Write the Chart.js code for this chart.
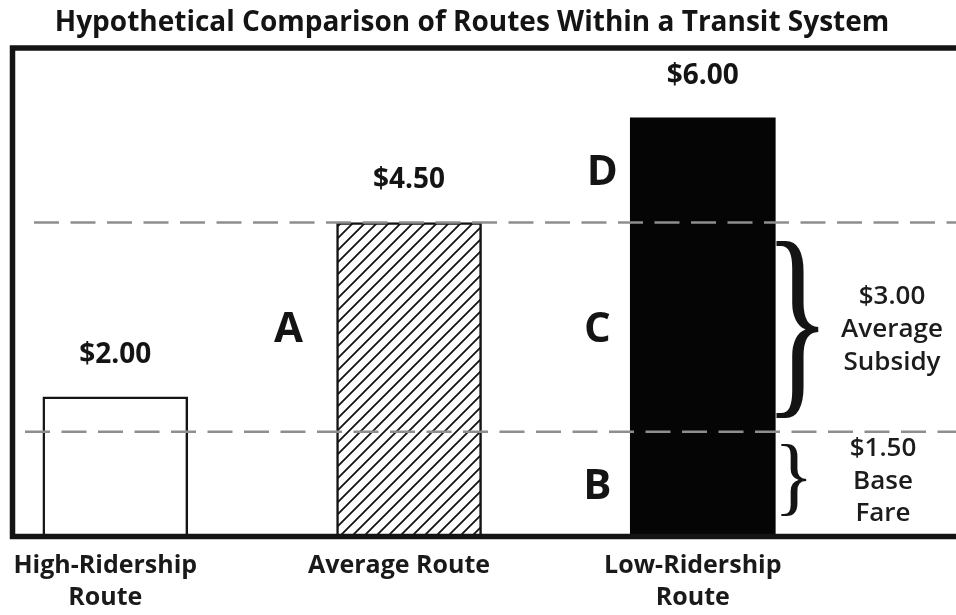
<!DOCTYPE html>
<html>
<head>
<meta charset="utf-8">
<title>Hypothetical Comparison of Routes Within a Transit System</title>
<script src="https://cdn.jsdelivr.net/npm/chart.js@4.4.1/dist/chart.umd.min.js"></script>
<style>
  html, body { margin: 0; padding: 0; background: #ffffff; }
  #wrap { width: 956px; height: 615px; }
</style>
</head>
<body>
<div id="wrap"><canvas id="chart" width="956" height="615"></canvas></div>
<script>
// Cost per rider on three kinds of route, and how the average cost splits
const routes = ['High-Ridership Route', 'Average Route', 'Low-Ridership Route'];
const tickLines = [['High-Ridership', 'Route'], ['Average Route'], ['Low-Ridership', 'Route']];
const costPerRider = [2.00, 4.50, 6.00];
const baseFare = 1.50;
const averageSubsidy = 3.00;
const averageCost = baseFare + averageSubsidy;
const subsidyNote = ['$' + averageSubsidy.toFixed(2), 'Average', 'Subsidy'];
const fareNote = ['$' + baseFare.toFixed(2), 'Base', 'Fare'];
const chartTitle = 'Hypothetical Comparison of Routes Within a Transit System';

const FONT = '"Open Sans", "DejaVu Sans", sans-serif';
const INK = '#141414';
const BAR_WIDTH = 145;

// diagonal hatch fill for the average route
function makeHatch(size, lw) {
  const c = document.createElement('canvas');
  c.width = size; c.height = size;
  const g = c.getContext('2d');
  g.fillStyle = '#ffffff';
  g.fillRect(0, 0, size, size);
  g.strokeStyle = INK;
  g.lineWidth = lw;
  g.beginPath();
  g.moveTo(0, size); g.lineTo(size, 0);
  g.moveTo(-size / 2, size / 2); g.lineTo(size / 2, -size / 2);
  g.moveTo(size / 2, size * 1.5); g.lineTo(size * 1.5, size / 2);
  g.stroke();
  return g.createPattern(c, 'repeat');
}
const hatch = makeHatch(12, 1.8);

// text centred on its capital height
function capText(ctx, text, cx, cy, size, weight, align) {
  ctx.font = `${weight} ${size}px ${FONT}`;
  ctx.textAlign = align || 'center';
  ctx.textBaseline = 'alphabetic';
  ctx.fillText(text, cx, cy + 0.357 * size);
}

// a right-facing curly brace stretched into the box (x0, y0, w, h)
function brace(ctx, x0, y0, w, h) {
  ctx.save();
  ctx.font = '100px "Liberation Serif", "DejaVu Serif", serif';
  ctx.textAlign = 'left';
  ctx.textBaseline = 'alphabetic';
  const m = ctx.measureText('}');
  const gl = -m.actualBoundingBoxLeft, gr = m.actualBoundingBoxRight;
  const gt = -m.actualBoundingBoxAscent, gb = m.actualBoundingBoxDescent;
  ctx.translate(x0, y0);
  ctx.scale(w / (gr - gl), h / (gb - gt));
  ctx.fillStyle = INK;
  ctx.fillText('}', -gl, -gt);
  ctx.restore();
}

const annotations = {
  id: 'annotations',
  afterDatasetsDraw(chart) {
    const { ctx, chartArea: a, scales: { x, y } } = chart;
    ctx.save();

    // dashed lines at the base fare and at the average cost
    ctx.strokeStyle = '#8e8e8e';
    ctx.lineWidth = 2.5;
    ctx.setLineDash([25, 11.5]);
    [[averageCost, 34], [baseFare, 25]].forEach(([v, x0]) => {
      const py = y.getPixelForValue(v);
      ctx.beginPath();
      ctx.moveTo(x0, py);
      ctx.lineTo(a.right, py);
      ctx.stroke();
    });
    ctx.setLineDash([]);

    // frame: top, left and bottom rules
    ctx.strokeStyle = INK;
    ctx.lineWidth = 5.5;
    ctx.beginPath();
    ctx.moveTo(a.right, a.top);
    ctx.lineTo(a.left, a.top);
    ctx.lineTo(a.left, a.bottom);
    ctx.lineTo(a.right, a.bottom);
    ctx.stroke();

    ctx.fillStyle = INK;

    // cost labels above the bars
    costPerRider.forEach((v, i) => {
      capText(ctx, '$' + v.toFixed(2), x.getPixelForValue(i + 1), y.getPixelForValue(v) - 44, 28, 'bold');
    });

    // segment letters
    const lowLeft = x.getPixelForValue(3) - BAR_WIDTH / 2;
    const avgLeft = x.getPixelForValue(2) - BAR_WIDTH / 2;
    const letterSize = 42;
    capText(ctx, 'A', avgLeft - 48, y.getPixelForValue(baseFare + averageSubsidy / 2), letterSize, 'bold');
    capText(ctx, 'B', lowLeft - 33, y.getPixelForValue(baseFare / 2), letterSize, 'bold');
    capText(ctx, 'C', lowLeft - 33, y.getPixelForValue(baseFare + averageSubsidy / 2), letterSize, 'bold');
    capText(ctx, 'D', lowLeft - 28, y.getPixelForValue((averageCost + costPerRider[2]) / 2), letterSize, 'bold');

    // braces with the fare and subsidy notes
    const lowRight = x.getPixelForValue(3) + BAR_WIDTH / 2;
    const yAvg = y.getPixelForValue(averageCost);
    const yBase = y.getPixelForValue(baseFare);
    const yZero = y.getPixelForValue(0);
    const sTop = yAvg + 17, sBot = yBase - 15;
    brace(ctx, lowRight + 1, sTop, 42, sBot - sTop);
    const fTop = yBase + 12, fBot = yZero - 21;
    brace(ctx, lowRight + 6, fTop, 25, fBot - fTop);

    ctx.fillStyle = '#1c1c1c';
    const sMid = (sTop + sBot) / 2;
    subsidyNote.forEach((t, i) => capText(ctx, t, 892, sMid + (i - 1) * 33, 26, '600'));
    const fMid = (fTop + fBot) / 2;
    fareNote.forEach((t, i) => capText(ctx, t, 883, fMid + (i - 1) * 32.5, 26, '600'));

    ctx.restore();
  },
  afterDraw(chart) {
    const { ctx } = chart;
    ctx.save();
    ctx.fillStyle = INK;
    capText(ctx, chartTitle, 472, 21, 28, 'bold');
    ctx.restore();
  }
};

new Chart(document.getElementById('chart'), {
  type: 'bar',
  data: {
    datasets: [{
      label: 'Cost per rider',
      data: routes.map((r, i) => ({ x: i + 1, y: costPerRider[i] })),
      backgroundColor: ['#ffffff', hatch, '#050505'],
      borderColor: INK,
      borderWidth: [2.5, 2.5, 0],
      barThickness: BAR_WIDTH
    }]
  },
  options: {
    responsive: false,
    devicePixelRatio: 1,
    animation: false,
    layout: { padding: { left: 12.5, right: 0, top: 48, bottom: 0 } },
    plugins: {
      legend: { display: false },
      tooltip: { enabled: false },
      title: { display: false }
    },
    scales: {
      x: {
        type: 'linear',
        min: 0.65,
        max: 3.862,
        offset: false,
        grid: { display: false, drawTicks: false },
        border: { display: false },
        afterBuildTicks: s => { s.ticks = routes.map((r, i) => ({ value: i + 1 })); },
        afterFit: s => { s.height = 78.5; },
        ticks: {
          autoSkip: false,
          maxRotation: 0,
          minRotation: 0,
          padding: 13,
          labelOffset: -10,
          color: '#1a1a1a',
          font: { family: FONT, size: 25, weight: 'bold', lineHeight: 1.3 },
          callback: (v, i) => tickLines[i]
        }
      },
      y: { display: false, min: 0, max: 7 }
    }
  },
  plugins: [annotations]
});
</script>
</body>
</html>
